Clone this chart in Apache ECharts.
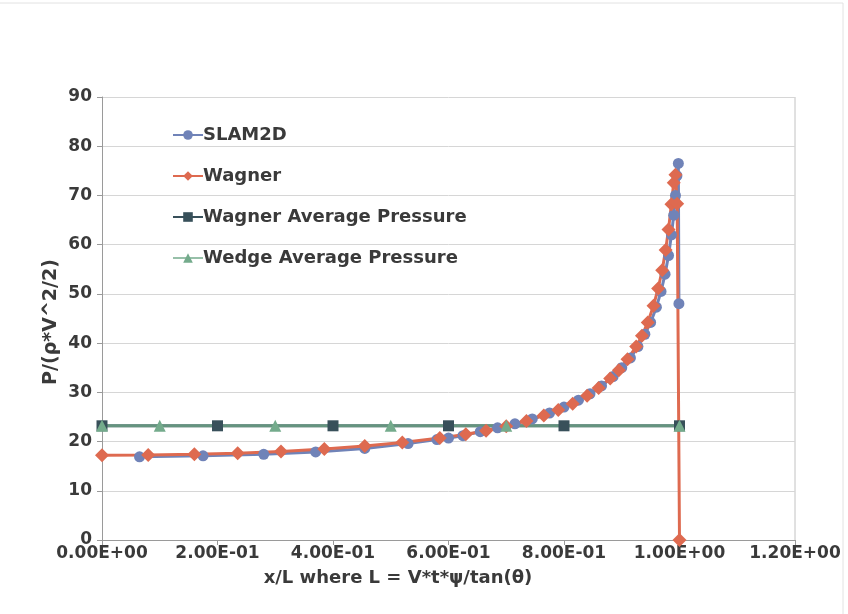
<!DOCTYPE html>
<html>
<head>
<meta charset="utf-8">
<script src="https://cdn.jsdelivr.net/npm/echarts@6/dist/echarts.min.js"></script>
<style>html,body{margin:0;padding:0;background:#fff;}#c{width:848px;height:614px;}</style>
</head>
<body>
<div id="c"></div>
<script>
var xTicks = [0, 0.2, 0.4, 0.6, 0.8, 1.0, 1.2];
var yTicks = [0, 10, 20, 30, 40, 50, 60, 70, 80, 90];

var slamX = [0.065, 0.175, 0.28, 0.37, 0.455, 0.53, 0.58, 0.60, 0.625, 0.655, 0.685, 0.715, 0.745, 0.775, 0.80, 0.825, 0.845, 0.865, 0.885, 0.90, 0.915, 0.928, 0.94, 0.95, 0.96, 0.968, 0.975, 0.981, 0.986, 0.99, 0.993, 0.9955, 0.998, 0.999];
var slamY = [16.9, 17.1, 17.4, 17.9, 18.6, 19.6, 20.4, 20.7, 21.2, 22.0, 22.8, 23.6, 24.6, 25.8, 27.0, 28.4, 29.7, 31.3, 33.2, 35.0, 37.0, 39.3, 41.8, 44.2, 47.3, 50.5, 54.0, 57.8, 62.0, 66.0, 70.0, 74.0, 76.5, 48.0];

var wagnerX = [0, 0.08, 0.16, 0.235, 0.31, 0.385, 0.455, 0.52, 0.585, 0.63, 0.665, 0.70, 0.735, 0.765, 0.79, 0.815, 0.84, 0.86, 0.88, 0.895, 0.91, 0.925, 0.935, 0.945, 0.955, 0.963, 0.97, 0.976, 0.981, 0.986, 0.99, 0.993, 0.996, 1.0];
var wagnerY = [17.2, 17.25, 17.4, 17.6, 18.0, 18.5, 19.1, 19.8, 20.7, 21.5, 22.2, 23.1, 24.2, 25.3, 26.4, 27.7, 29.3, 30.9, 32.8, 34.5, 36.7, 39.3, 41.5, 44.2, 47.6, 51.1, 54.8, 58.9, 63.1, 68.2, 72.6, 74.2, 68.3, 0];

var wagAvgX = [0, 0.2, 0.4, 0.6, 0.8, 1.0];
var wagAvgY = [23.2, 23.2, 23.2, 23.2, 23.2, 23.2];

var wedgeX = [0, 0.1, 0.3, 0.5, 0.7, 1.0];
var wedgeY = [23.2, 23.2, 23.2, 23.2, 23.2, 23.2];

function zip(xs, ys) { return xs.map(function (x, i) { return [x, ys[i]]; }); }
function fmtE(v) {
  if (v === 0) return '0.00E+00';
  var s = v.toExponential(2).toUpperCase();
  var p = s.split('E');
  var e = parseInt(p[1], 10);
  var sign = e < 0 ? '-' : '+';
  var a = Math.abs(e);
  return p[0] + 'E' + sign + (a < 10 ? '0' + a : a);
}

var FONT = '"DejaVu Sans", sans-serif';
var TXT = '#3a3a3a';
var chart = echarts.init(document.getElementById('c'));
chart.setOption({
  backgroundColor: '#ffffff',
  animation: false,
  grid: { left: 102, right: 53, top: 97, bottom: 74 },
  legend: {
    orient: 'vertical', left: 167, top: 121,
    itemWidth: 30, itemHeight: 12, itemGap: 23,
    textStyle: { fontFamily: FONT, fontWeight: 'bold', fontSize: 18, color: TXT, padding: [0, 0, 0, -5] },
    data: ['SLAM2D', 'Wagner', 'Wagner Average Pressure', 'Wedge Average Pressure']
  },
  xAxis: {
    type: 'value', min: 0, max: 1.2, interval: 0.2,
    axisLine: { show: true, lineStyle: { color: '#9a9a9a', width: 1 } },
    axisTick: { show: true, inside: false, length: 5, lineStyle: { color: '#9a9a9a' } },
    splitLine: { show: false },
    axisLabel: { formatter: fmtE, fontFamily: FONT, fontWeight: 'bold', fontSize: 17, color: TXT, margin: 5 }
  },
  yAxis: {
    type: 'value', min: 0, max: 90, interval: 10,
    axisLine: { show: true, lineStyle: { color: '#9a9a9a', width: 1 } },
    axisTick: { show: true, length: 5, lineStyle: { color: '#9a9a9a' } },
    splitLine: { show: true, lineStyle: { color: '#d6d6d6', width: 1 } },
    axisLabel: { fontFamily: FONT, fontWeight: 'bold', fontSize: 17, color: TXT, margin: 10 }
  },
  graphic: [
    { type: 'rect', shape: { x: -2, y: 3, width: 845, height: 620 }, style: { stroke: '#e2e2e2', lineWidth: 1, fill: null }, silent: true, z: -1 },
    { type: 'text', x: 398, y: 578,
      style: { text: 'x/L where L = V*t*ψ/tan(θ)', fontFamily: FONT, fontWeight: 'bold', fontSize: 18, fill: TXT, align: 'center', verticalAlign: 'middle' } },
    { type: 'text', x: 51, y: 322, rotation: Math.PI / 2,
      style: { text: 'P/(ρ*V^2/2)', fontFamily: FONT, fontWeight: 'bold', fontSize: 19, fill: TXT, align: 'center', verticalAlign: 'middle' } },
    { type: 'rect', shape: { x: 795, y: 97, width: 0, height: 443 }, style: { stroke: '#d6d6d6', lineWidth: 1, fill: null }, silent: true }
  ],
  series: [
    { name: 'SLAM2D', type: 'line', data: zip(slamX, slamY),
      symbol: 'circle', symbolSize: 11, color: '#7083b8',
      lineStyle: { width: 3, color: '#7083b8' }, itemStyle: { color: '#7083b8' } },
    { name: 'Wagner', type: 'line', data: zip(wagnerX, wagnerY),
      symbol: 'diamond', symbolSize: 14, color: '#de6a50',
      lineStyle: { width: 3, color: '#de6a50' }, itemStyle: { color: '#de6a50' } },
    { name: 'Wagner Average Pressure', type: 'line', data: zip(wagAvgX, wagAvgY),
      symbol: 'rect', symbolSize: 11, color: '#38505a',
      lineStyle: { width: 3, color: '#38505a' }, itemStyle: { color: '#38505a' } },
    { name: 'Wedge Average Pressure', type: 'line', data: zip(wedgeX, wedgeY),
      symbol: 'triangle', symbolSize: 12, color: '#74ab8c',
      lineStyle: { width: 3, color: '#74ab8c', opacity: 0.75 }, itemStyle: { color: '#74ab8c' } }
  ]
});
</script>
</body>
</html>
